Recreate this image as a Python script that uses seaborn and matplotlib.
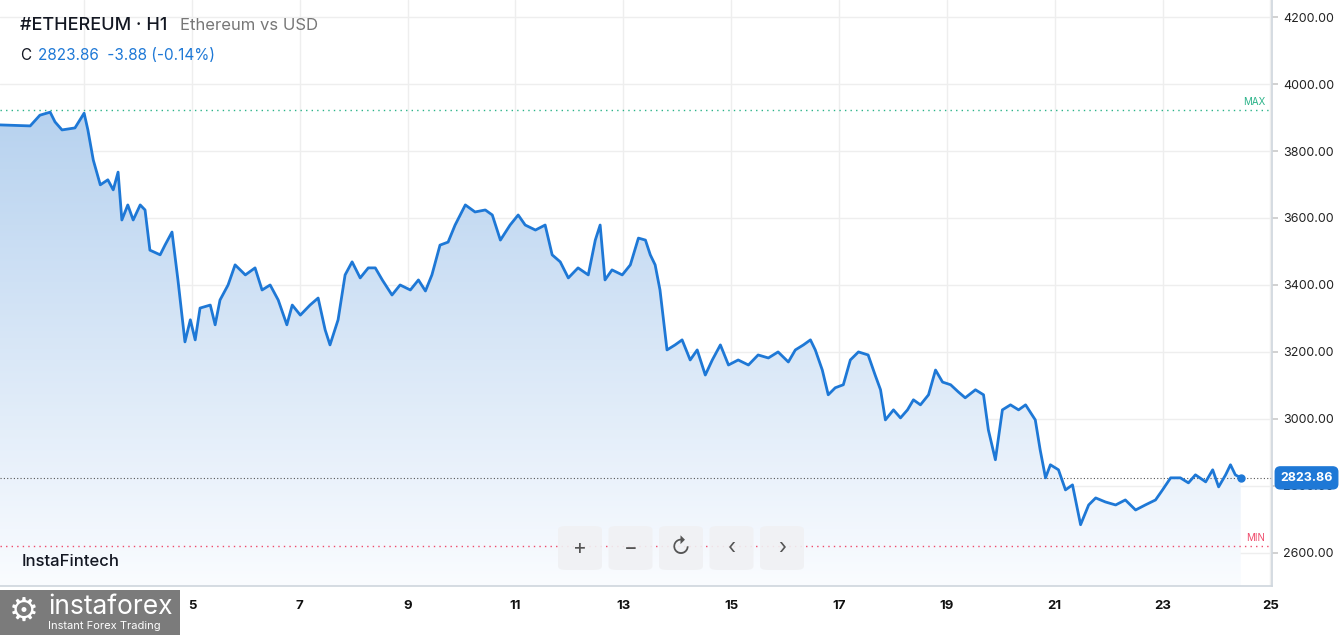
import numpy as np
import matplotlib.pyplot as plt
import seaborn as sns
from matplotlib.patches import FancyBboxPatch, Rectangle
from matplotlib.colors import LinearSegmentedColormap

# hourly close, x in days of month
days = [1.44, 2.00, 2.18, 2.37, 2.46, 2.59, 2.83, 3.00, 3.07, 3.17, 3.30, 3.44, 3.54, 3.63, 3.70, 3.81, 3.91,
        4.04, 4.13, 4.22, 4.41, 4.50, 4.63, 4.74, 4.87, 4.97, 5.06, 5.15, 5.34, 5.43, 5.52, 5.67, 5.80, 5.99,
        6.17, 6.30, 6.45, 6.60, 6.76, 6.86, 7.01, 7.19, 7.34, 7.47, 7.56, 7.71, 7.84, 7.97, 8.12, 8.27, 8.40,
        8.53, 8.71, 8.86, 9.05, 9.20, 9.33, 9.45, 9.60, 9.75, 9.88, 10.07, 10.25, 10.44, 10.57, 10.72, 10.90,
        11.05, 11.18, 11.37, 11.55, 11.68, 11.83, 11.98, 12.16, 12.35, 12.48, 12.57, 12.66, 12.79, 12.98,
        13.13, 13.28, 13.41, 13.50, 13.59, 13.68, 13.81, 13.96, 14.09, 14.24, 14.37, 14.52, 14.65, 14.80,
        14.95, 15.13, 15.32, 15.50, 15.69, 15.87, 16.06, 16.19, 16.34, 16.47, 16.56, 16.69, 16.80, 16.93,
        17.08, 17.21, 17.36, 17.54, 17.67, 17.77, 17.86, 18.01, 18.14, 18.27, 18.38, 18.51, 18.66, 18.79,
        18.92, 19.07, 19.21, 19.34, 19.53, 19.68, 19.77, 19.90, 20.03, 20.18, 20.33, 20.46, 20.64, 20.73,
        20.83, 20.92, 21.07, 21.20, 21.33, 21.48, 21.63, 21.76, 21.94, 22.13, 22.31, 22.50, 22.68, 22.87,
        23.00, 23.15, 23.33, 23.48, 23.61, 23.80, 23.93, 24.04, 24.17, 24.26, 24.35, 24.45]
prices = [3878, 3875, 3907, 3916, 3887, 3863, 3869, 3913, 3863, 3773, 3699, 3714, 3684, 3737, 3594, 3639, 3594,
          3639, 3624, 3504, 3490, 3519, 3558, 3415, 3230, 3296, 3236, 3331, 3340, 3281, 3355, 3400, 3460, 3430,
          3451, 3385, 3400, 3355, 3281, 3340, 3310, 3340, 3361, 3266, 3221, 3296, 3430, 3469, 3421, 3451, 3451,
          3415, 3370, 3400, 3385, 3415, 3382, 3430, 3519, 3528, 3579, 3639, 3618, 3624, 3609, 3534, 3579,
          3609, 3579, 3564, 3579, 3490, 3469, 3421, 3451, 3430, 3534, 3579, 3415, 3445, 3430,
          3460, 3540, 3534, 3490, 3460, 3385, 3206, 3221, 3236, 3176, 3206, 3131, 3176, 3221,
          3161, 3176, 3161, 3191, 3182, 3200, 3170, 3206, 3221, 3236, 3206, 3146, 3072, 3093,
          3102, 3176, 3200, 3191, 3131, 3087, 2997, 3027, 3003, 3027, 3057, 3042, 3072, 3146,
          3110, 3102, 3081, 3063, 3087, 3072, 2967, 2878, 3027, 3042, 3027, 3042, 2997, 2908,
          2824, 2863, 2848, 2788, 2803, 2684, 2743, 2764, 2752, 2743, 2758, 2728, 2743, 2758,
          2788, 2824, 2824, 2809, 2833, 2812, 2848, 2797, 2833, 2863, 2833, 2824]
y_ticks = [2600, 2800, 3000, 3200, 3400, 3600, 3800, 4000, 4200]
x_ticks = [3, 5, 7, 9, 11, 13, 15, 17, 19, 21, 23, 25]
last_price = 2823.86
max_level = 3922
min_level = 2621

sns.set_theme(style="white")
plt.rcParams['font.family'] = ['Inter', 'DejaVu Sans']

W, H = 1342, 635
fig = plt.figure(figsize=(W / 100, H / 100), dpi=100)
fig.patch.set_facecolor("white")
ax = fig.add_axes([0, 1 - 586 / H, 1272 / W, 586 / H])
ax.set_xlim(1.44, 25.03)
ax.set_ylim(2501, 4251)

blue = "#1e78d6"
for t in x_ticks:
    ax.axvline(t, color="#eeeeee", lw=1, zorder=0)
for t in y_ticks:
    ax.axhline(t, color="#eeeeee", lw=1, zorder=0)

# gradient fill under the line
poly = ax.fill_between(days, prices, 2501, color="none", lw=0)
grad = np.linspace(0, 1, 256).reshape(-1, 1)
cmap = LinearSegmentedColormap.from_list("g", ["#fafcff", "#b7d2ef"])
im = ax.imshow(grad, cmap=cmap, aspect="auto", origin="lower",
               extent=[1.44, 24.45, 2501, 3916], zorder=1)
im.set_clip_path(poly.get_paths()[0], transform=ax.transData)

sns.lineplot(x=days, y=prices, ax=ax, color=blue, lw=2, zorder=3, sort=False)
ax.plot(days[-1], prices[-1], "o", color=blue, ms=5, zorder=4)

ax.axhline(max_level, color="#2bb389", lw=1, ls=(0, (1, 3)), zorder=2)
ax.axhline(min_level, color="#ef4b6b", lw=1, ls=(0, (1, 3)), zorder=2)
ax.axhline(last_price, color="#555555", lw=0.8, ls=(0, (1, 2)), zorder=2)
ax.text(24.9, max_level + 8, "MAX", color="#2bb389", fontsize=7, ha="right", va="bottom")
ax.text(24.9, min_level + 8, "MIN", color="#ef4b6b", fontsize=7, ha="right", va="bottom")

ax.yaxis.tick_right()
ax.set_yticks(y_ticks)
ax.set_yticklabels([f"{v:.2f}" for v in y_ticks], fontsize=9, color="#222222")
ax.set_xticks(x_ticks)
ax.set_xticklabels([str(v) for v in x_ticks], fontsize=9.5, fontweight="bold", color="#111111")
ax.tick_params(axis="y", length=4, color="#cccccc", pad=4)
ax.tick_params(axis="x", length=4, color="#cccccc", pad=6)
for s in ["top", "left"]:
    ax.spines[s].set_visible(False)
ax.spines["right"].set_color("#d0d7de")
ax.spines["bottom"].set_color("#d0d7de")

# current price label
ax.text(1.0065, (last_price - 2501) / 1750, f"{last_price:.2f}", transform=ax.transAxes,
        fontsize=9, color="white", fontweight="bold", va="center", ha="left", zorder=6,
        bbox=dict(boxstyle="round,pad=0.4", fc=blue, ec=blue))

# header
fig.text(20 / W, 1 - 26 / H, "#ETHEREUM · H1", fontsize=13, fontweight="medium", color="#131722", va="center")
fig.text(180 / W, 1 - 26 / H, "Ethereum vs USD", fontsize=12, color="#777777", va="center")
fig.text(20 / W, 1 - 55 / H, "C", fontsize=11, color="#131722", va="center")
fig.text(38 / W, 1 - 55 / H, "2823.86  -3.88 (-0.14%)", fontsize=11, color=blue, va="center")
fig.text(22 / W, 1 - 562 / H, "InstaFintech", fontsize=12, fontweight="medium", color="#131722", va="center")

# navigation buttons
for i, sym in enumerate(["+", "−", "↻", "‹", "›"]):
    x0 = 558 + i * 50.5
    fig.patches.append(FancyBboxPatch((x0 / W, 1 - 570 / H), 44 / W, 44 / H,
                                      boxstyle="round,pad=0,rounding_size=0.006",
                                      transform=fig.transFigure, fc="#f0f1f3", ec="none", alpha=0.9))
    fig.text((x0 + 22) / W, 1 - 548 / H, sym, fontsize=15, color="#555555", ha="center", va="center")

# logo box
fig.patches.append(Rectangle((0, 0), 180 / W, 45 / H, transform=fig.transFigure, fc="#7b7b7b", ec="none",
                             zorder=5))
fig.text(48 / W, 1 - 607 / H, "instaforex", fontsize=19, color="white", va="center", zorder=6)
fig.text(48 / W, 1 - 626 / H, "Instant Forex Trading", fontsize=8, color="white", va="center", zorder=6)
fig.text(24 / W, 1 - 612 / H, "⚙", fontsize=24, color="white", ha="center", va="center", zorder=6)

fig.savefig("out.png", dpi=100)
